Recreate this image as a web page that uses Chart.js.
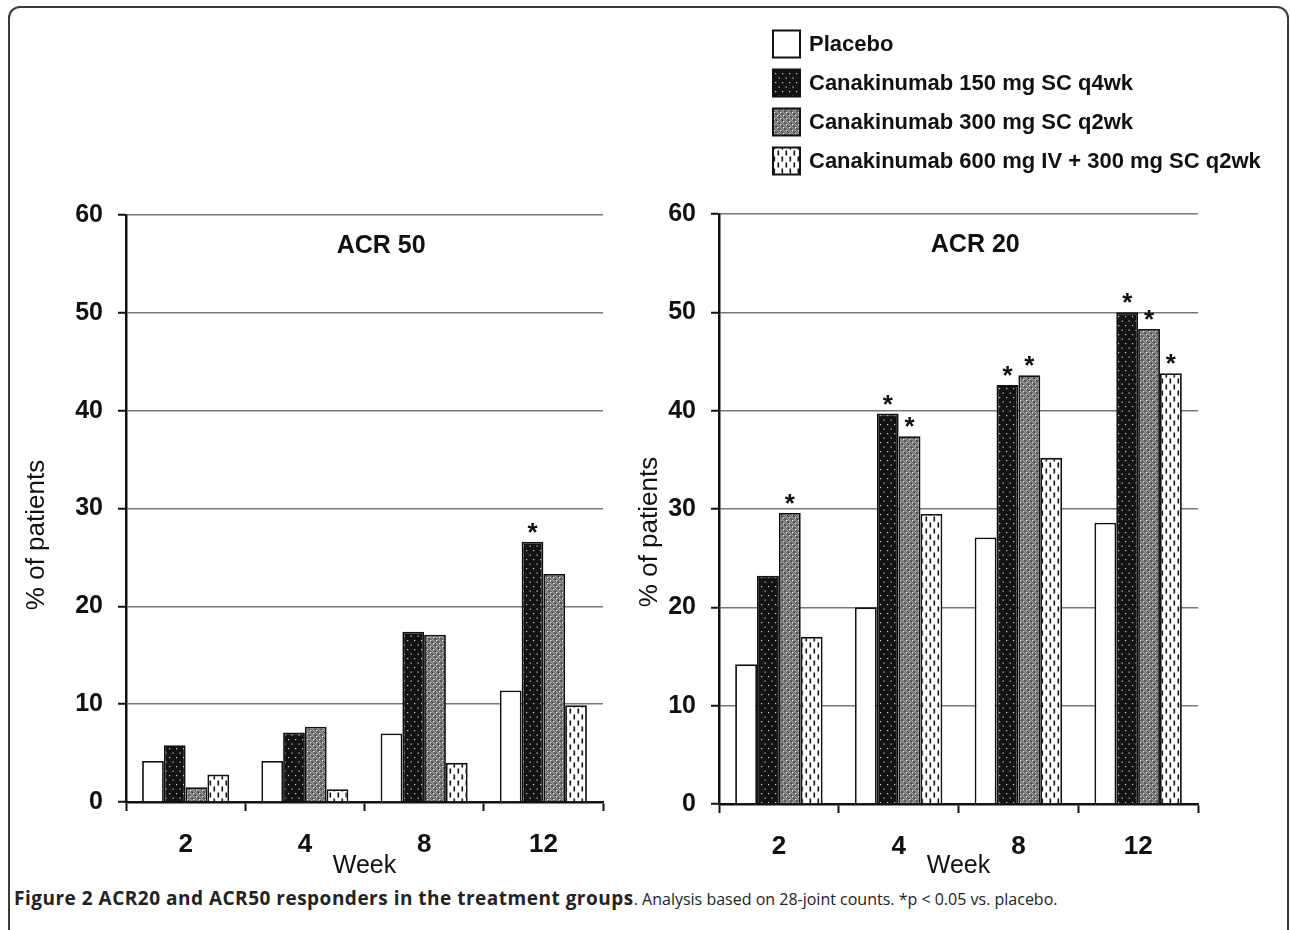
<!DOCTYPE html>
<html>
<head>
<meta charset="utf-8">
<title>ACR20 and ACR50 responders</title>
<script src="https://cdn.jsdelivr.net/npm/chart.js@4.4.0/dist/chart.umd.min.js"></script>
<style>
    html, body { margin: 0; padding: 0; background: #fff; }
    body { width: 1290px; height: 930px; position: relative; overflow: hidden; }
    #marco { position: absolute; left: 8px; top: 6px; width: 1281px; height: 980px;
             border: 2px solid #3a3a3a; border-radius: 12px; box-sizing: border-box; }
    #izq { position: absolute; left: 0; top: 0; }
    #der { position: absolute; left: 620px; top: 0; }
    #pie { position: absolute; left: 14px; top: 885px; white-space: nowrap;
           font-family: 'Open Sans', sans-serif; font-size: 16px; color: #222; }
    #pie b { font-weight: 700; font-size: 19px; letter-spacing: 0.5px; }
</style>
</head>
<body>
<div id="marco"></div>
<canvas id="izq" width="620" height="881"></canvas>
<canvas id="der" width="670" height="881"></canvas>
<div id="pie"><b>Figure 2 ACR20 and ACR50 responders in the treatment groups</b>. Analysis based on 28-joint counts. *p &lt; 0.05 vs. placebo.</div>

<script>
// --- DATOS ---
const semanas = ['2', '4', '8', '12'];
const grupos = ['Placebo', 'Canakinumab 150 mg SC q4wk', 'Canakinumab 300 mg SC q2wk', 'Canakinumab 600 mg IV + 300 mg SC q2wk'];
const ticksY = [0, 10, 20, 30, 40, 50, 60];

// ACR 50 (% de pacientes)
const acr50Placebo = [4.2, 4.2, 7.0, 11.4];
const acr50Dosis150 = [5.8, 7.1, 17.4, 26.6];
const acr50Dosis300 = [1.5, 7.7, 17.1, 23.3];
const acr50Dosis600 = [2.8, 1.3, 4.0, 9.9];

// ACR 20 (% de pacientes)
const acr20Placebo = [14.2, 20.0, 27.1, 28.6];
const acr20Dosis150 = [23.2, 39.7, 42.6, 50.0];
const acr20Dosis300 = [29.6, 37.4, 43.6, 48.3];
const acr20Dosis600 = [17.0, 29.5, 35.2, 43.8];

// p < 0.05 vs placebo (1 = asterisco), una fila por grupo
const acr50Signif = [[0, 0, 0, 0], [0, 0, 0, 1], [0, 0, 0, 0], [0, 0, 0, 0]];
const acr20Signif = [[0, 0, 0, 0], [0, 1, 1, 1], [1, 1, 1, 1], [0, 0, 0, 1]];

// --- TRAMAS DE LAS BARRAS ---
function crearTrama(w, h, fondo, dibujar) {
    const c = document.createElement('canvas');
    c.width = w; c.height = h;
    const g = c.getContext('2d');
    g.fillStyle = fondo;
    g.fillRect(0, 0, w, h);
    dibujar(g);
    return g.createPattern(c, 'repeat');
}

const tramaBlanca = '#ffffff';
const tramaNegra = crearTrama(7, 9, '#131313', g => {
    g.fillStyle = '#d0d0d0';
    g.fillRect(1, 1, 1.2, 1.2);
    g.fillRect(4.5, 5.5, 1.2, 1.2);
});
const tramaGris = crearTrama(6, 6, '#6e6e6e', g => {
    g.fillStyle = '#e6e6e6';
    g.fillRect(1, 1, 1.4, 1.4);
    g.fillRect(4, 4, 1.4, 1.4);
    g.fillStyle = '#a0a0a0';
    [[3, 0], [0, 3], [5, 2], [2, 5], [4, 1], [1, 4]].forEach(p => g.fillRect(p[0], p[1], 1, 1));
    g.fillStyle = '#4a4a4a';
    [[0, 0], [3, 3], [5, 5], [2, 2]].forEach(p => g.fillRect(p[0], p[1], 1, 1));
});
const tramaRayas = crearTrama(8, 12, '#ffffff', g => {
    g.fillStyle = '#111';
    g.fillRect(1.5, 0.5, 1.6, 5);
    g.fillRect(5.5, 6.5, 1.6, 5);
});
const tramas = [tramaBlanca, tramaNegra, tramaGris, tramaRayas];

// --- PLUGINS ---
function pluginRotulos(conf) {
    return {
        id: 'rotulos_' + conf.titulo,
        afterDatasetsDraw(chart) {
            const ctx = chart.ctx;
            const area = chart.chartArea;
            ctx.save();
            ctx.fillStyle = '#111';
            // titulo del panel dentro del area
            ctx.font = 'bold 25px "Liberation Sans", Arial, sans-serif';
            ctx.textAlign = 'center';
            ctx.textBaseline = 'middle';
            ctx.fillText(conf.titulo, area.left + (area.right - area.left) * 0.535, area.top + 31);
            // asteriscos
            ctx.font = 'bold 26px "Liberation Sans", Arial, sans-serif';
            ctx.textBaseline = 'alphabetic';
            conf.signif.forEach((fila, i) => {
                const meta = chart.getDatasetMeta(i);
                fila.forEach((s, j) => {
                    if (!s) return;
                    const barra = meta.data[j];
                    ctx.fillText('*', barra.x, barra.y - 1);
                });
            });
            // titulo eje Y
            ctx.translate(conf.ejeY.x, conf.ejeY.y);
            ctx.rotate(-Math.PI / 2);
            ctx.font = '26px "Liberation Sans", Arial, sans-serif';
            ctx.textBaseline = 'middle';
            ctx.fillText('% of patients', 0, 0);
            ctx.restore();
        }
    };
}

const pluginLeyenda = {
    id: 'leyendaCuadros',
    afterDraw(chart) {
        const ctx = chart.ctx;
        ctx.save();
        ctx.font = 'bold 22px "Liberation Sans", Arial, sans-serif';
        ctx.textBaseline = 'middle';
        ctx.textAlign = 'left';
        chart.data.datasets.forEach((ds, i) => {
            const yc = 43.5 + i * 39;
            ctx.fillStyle = ds.backgroundColor;
            ctx.fillRect(153, yc - 13, 27, 27);
            ctx.strokeStyle = '#111';
            ctx.lineWidth = 2;
            ctx.strokeRect(153, yc - 13, 27, 27);
            ctx.fillStyle = '#111';
            ctx.fillText(ds.label, 189, yc + 1);
        });
        ctx.restore();
    }
};

// --- GRAFICOS ---
function crearGrafico(id, series, conf) {
    const datasets = series.map((valores, i) => ({
        label: grupos[i],
        data: valores,
        backgroundColor: tramas[i],
        borderColor: '#111',
        borderWidth: 1.8,
        categoryPercentage: 0.73,
        barPercentage: 1.0
    }));

    const plugins = [pluginRotulos(conf)];
    if (conf.leyenda) plugins.push(pluginLeyenda);

    return new Chart(document.getElementById(id), {
        type: 'bar',
        data: { labels: semanas, datasets: datasets },
        options: {
            responsive: false,
            animation: false,
            layout: { padding: conf.padding },
            plugins: { legend: { display: false }, tooltip: { enabled: false } },
            scales: {
                x: {
                    grid: { display: true, drawOnChartArea: false, offset: true,
                            tickLength: 9, tickWidth: 2, tickColor: '#111' },
                    border: { color: '#111', width: 2.5 },
                    ticks: { color: '#111', padding: 18,
                             font: { size: 26, weight: 'bold', family: '"Liberation Sans", Arial' } },
                    title: { display: true, text: 'Week', color: '#111', padding: 0,
                             font: { size: 25, family: '"Liberation Sans", Arial' } },
                    afterFit: s => { s.height = conf.altoX; }
                },
                y: {
                    min: 0, max: 60,
                    afterBuildTicks: s => { s.ticks = ticksY.map(v => ({ value: v })); },
                    grid: { color: c => c.tick && c.tick.value === 0 ? 'rgba(0,0,0,0)' : '#777',
                            lineWidth: 1.5, tickLength: 8, tickWidth: 2, tickColor: '#111' },
                    border: { color: '#111', width: 2.5 },
                    ticks: { color: '#111', padding: 15,
                             font: { size: 25, weight: 'bold', family: '"Liberation Sans", Arial' } },
                    afterFit: s => { s.width = conf.anchoY; }
                }
            }
        },
        plugins: plugins
    });
}

crearGrafico('izq', [acr50Placebo, acr50Dosis150, acr50Dosis300, acr50Dosis600], {
    titulo: 'ACR 50',
    signif: acr50Signif,
    padding: { top: 215, right: 17, bottom: 0, left: 0 },
    anchoY: 126, altoX: 79,
    ejeY: { x: 37, y: 535 },
    leyenda: false
});

crearGrafico('der', [acr20Placebo, acr20Dosis150, acr20Dosis300, acr20Dosis600], {
    titulo: 'ACR 20',
    signif: acr20Signif,
    padding: { top: 214, right: 92, bottom: 0, left: 0 },
    anchoY: 99, altoX: 77,
    ejeY: { x: 30, y: 532 },
    leyenda: true
});
</script>
</body>
</html>
